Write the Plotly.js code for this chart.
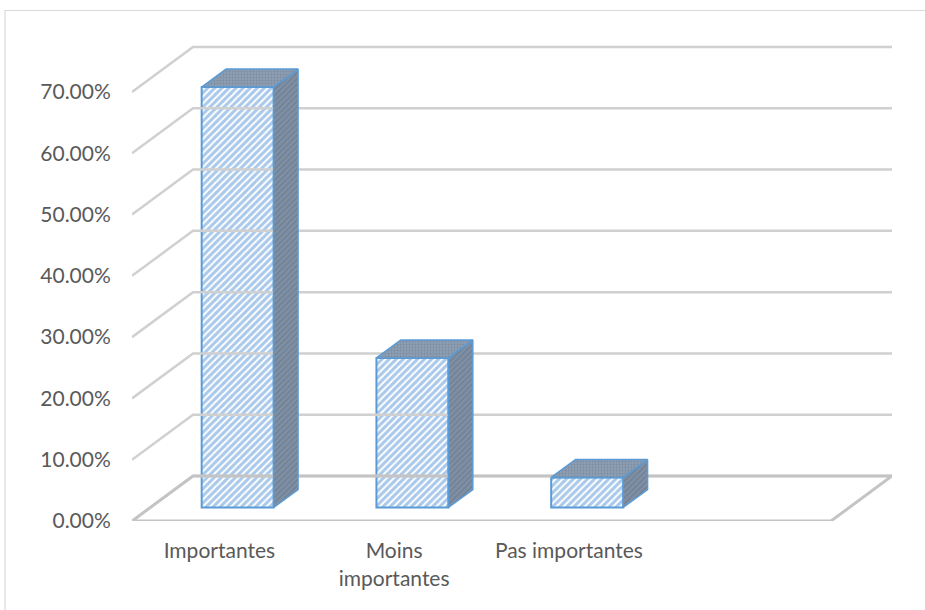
<!DOCTYPE html>
<html>
<head>
<meta charset="utf-8">
<script src="https://cdn.plot.ly/plotly-3.0.1.min.js"></script>
<style>
html,body{margin:0;padding:0;background:#fff;}
#chart{width:925px;height:610px;}
</style>
</head>
<body>
<div id="chart"></div>
<script>
// ---- data ----
const categories = ['Importantes', 'Moins<br>importantes', 'Pas importantes'];
const values = [0.686, 0.244, 0.049];
const yTicks = [0, 0.1, 0.2, 0.3, 0.4, 0.5, 0.6, 0.7];
const slotCount = 4;

// ---- 3D geometry (style) ----
const DX = 0.349, DY = 0.0734;   // depth vector in axis units
const F0 = 0.3, F1 = 0.7;        // bar front/back depth fraction
const W = 0.412;                 // bar width
const ddx = (F1 - F0) * DX, ddy = (F1 - F0) * DY;
const edge = '#5b9bd5';
const gridColor = '#d0d0d0';

const traces = [];

// back wall gridlines + left wall diagonals
const gx = [], gy = [];
yTicks.forEach(v => {
  gx.push(-0.5, -0.5 + DX, slotCount - 0.5 + DX, null);
  gy.push(v, v + DY, v + DY, null);
});
traces.push({type:'scatter', mode:'lines', x:gx, y:gy, line:{color:gridColor, width:2.5}, hoverinfo:'skip', showlegend:false});

// floor
traces.push({type:'scatter', mode:'lines',
  x:[-0.5, slotCount - 0.5, slotCount - 0.5 + DX, -0.5 + DX, -0.5],
  y:[0, 0, DY, DY, 0],
  line:{color:'#c4c4c4', width:3}, hoverinfo:'skip', showlegend:false});

// bars: side and top faces
values.forEach((v, i) => {
  const xl = i + F0 * DX - W / 2, xr = i + F0 * DX + W / 2;
  const b0 = F0 * DY, t = b0 + v;
  traces.push({type:'scatter', mode:'lines', fill:'toself',
    x:[xr, xr, xr + ddx, xr + ddx, xr],
    y:[b0, t, t + ddy, b0 + ddy, b0],
    fillcolor:'#7a8b9f',
    fillpattern:{shape:'/', fgcolor:'#6e7e92', bgcolor:'#7f90a4', size:4, solidity:0.3},
    line:{color:edge, width:1.5}, hoverinfo:'skip', showlegend:false});
  traces.push({type:'scatter', mode:'lines', fill:'toself',
    x:[xl, xr, xr + ddx, xl + ddx, xl],
    y:[t, t, t + ddy, t + ddy, t],
    fillcolor:'#8a9ab0',
    fillpattern:{shape:'.', fgcolor:'#7b8ba0', bgcolor:'#8e9eb2', size:3, solidity:0.3},
    line:{color:edge, width:1.5}, hoverinfo:'skip', showlegend:false});
});

// bars: front faces
traces.push({type:'bar',
  x: values.map((v, i) => i + F0 * DX),
  y: values,
  base: values.map(() => F0 * DY),
  width: W,
  marker:{color:'#b4d0ee', line:{color:edge, width:2},
    pattern:{shape:'/', fgcolor:'#ffffff', bgcolor:'#a9c9eb', size:5, solidity:0.4}},
  hoverinfo:'skip', showlegend:false});

const layout = {
  width:925, height:610,
  margin:{l:132, r:33, t:40, b:89},
  paper_bgcolor:'#fff', plot_bgcolor:'#fff',
  font:{family:'Lato, "Open Sans", sans-serif', size:21, color:'#595959'},
  showlegend:false,
  xaxis:{range:[-0.5, slotCount - 0.5 + DX], showgrid:false, zeroline:false, showline:false,
    tickmode:'array', tickvals:categories.map((c, i) => i), ticktext:categories,
    ticks:'outside', ticklen:11, tickcolor:'rgba(0,0,0,0)', fixedrange:true},
  yaxis:{range:[0, 0.7848], showgrid:false, zeroline:false, showline:false,
    tickmode:'array', tickvals:yTicks, tickformat:'.2%',
    ticks:'outside', ticklen:16, tickcolor:'rgba(0,0,0,0)', fixedrange:true},
  shapes:[{type:'rect', xref:'paper', yref:'paper',
    x0:(5 - 132) / 760, x1:(935 - 132) / 760,
    y0:(521 - 620) / 481, y1:(521 - 10.5) / 481,
    line:{color:'#d9d9d9', width:1.2}, fillcolor:'rgba(0,0,0,0)', layer:'below'}]
};

Plotly.newPlot('chart', traces, layout, {displayModeBar:false, staticPlot:true});
</script>
</body>
</html>
